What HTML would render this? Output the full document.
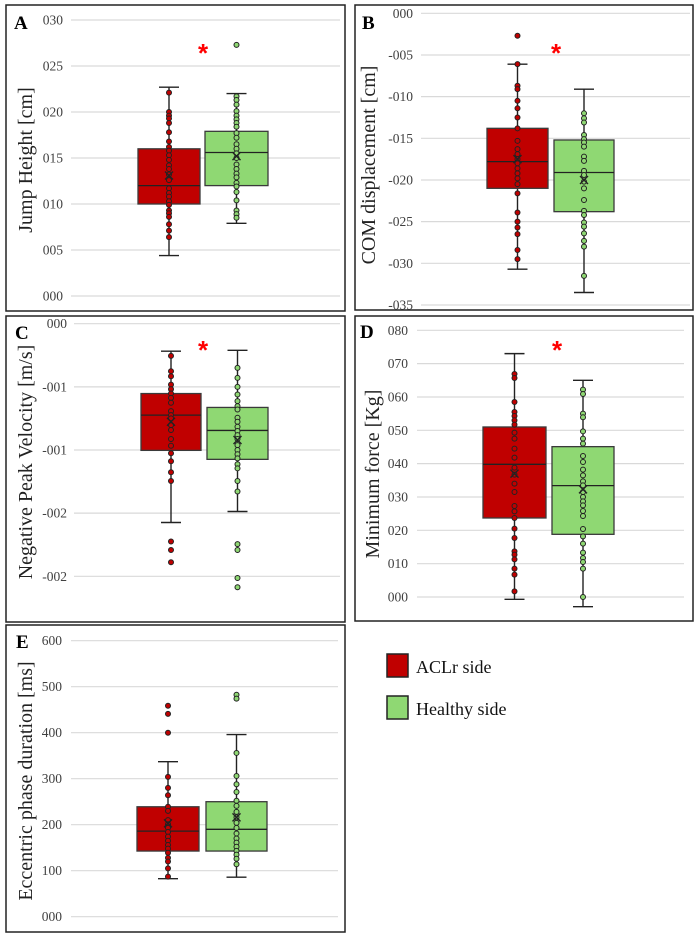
<!DOCTYPE html>
<html><head><meta charset="utf-8">
<style>
html,body{margin:0;padding:0;background:#fff;}
svg{display:block;font-family:"Liberation Serif",serif;}
</style></head>
<body>
<svg id="chart" width="698" height="938" viewBox="0 0 698 938" xmlns="http://www.w3.org/2000/svg">
<g>
<rect x="387" y="654" width="21" height="23" fill="#c00000" stroke="#222" stroke-width="1.5"/>
<text x="416" y="673" font-size="18" fill="#111">ACLr side</text>
<rect x="387" y="696" width="21" height="23" fill="#8fd873" stroke="#222" stroke-width="1.5"/>
<text x="416" y="715" font-size="18" fill="#111">Healthy side</text>
</g>
</svg>
<script>
// ---- Panel A: Jump Height ----
const A_ticks = [0,5,10,15,20,25,30];
const A_tickLabels = ["000","005","010","015","020","025","030"];
const A_redStats = [4.4,10,12,16,22.7,13.1];   // lowWhisker,q1,median,q3,highWhisker,mean
const A_redPoints = [22.1,20,19.6,19.3,18.8,17.8,16.8,16.2,15.8,15.3,14.8,14.2,13.8,13.2,12.6,11.7,11.2,10.8,10.3,9.9,9.3,9.0,8.6,7.8,7.1,6.4];
const A_redOutliers = [];
const A_greenStats = [7.9,12,15.6,17.9,22.0,15.2];
const A_greenPoints = [21.7,21.3,20.8,20.1,19.6,19.2,18.8,18.4,17.7,17.2,16.5,16.0,15.5,15.0,14.3,13.8,13.3,12.9,12.3,11.9,11.3,10.4,9.3,8.9,8.5];
const A_greenOutliers = [27.3];

// ---- Panel B: COM displacement ----
const B_ticks = [0,-5,-10,-15,-20,-25,-30,-35];
const B_tickLabels = ["000","-005","-010","-015","-020","-025","-030","-035"];
const B_redStats = [-30.7,-21,-17.8,-13.8,-6.1,-17.5];
const B_redPoints = [-6.1,-8.7,-9.1,-10.5,-11.4,-12.5,-13.8,-15.3,-16.3,-16.9,-17.5,-18.0,-18.6,-19.2,-19.8,-20.5,-21.6,-23.9,-25.0,-25.7,-26.5,-28.4,-29.5];
const B_redOutliers = [-2.7];
const B_greenStats = [-33.5,-23.8,-19.1,-15.2,-9.1,-20.0];
const B_greenPoints = [-12,-12.6,-13.1,-14.6,-15.1,-15.5,-16.0,-17.2,-17.7,-18.9,-19.4,-20.2,-21.0,-22.4,-23.7,-24.2,-25.1,-25.6,-26.4,-27.3,-28.0,-31.5];
const B_greenOutliers = [];

// ---- Panel C: Negative peak velocity ----
const C_ticks = [0,-0.5,-1.0,-1.5,-2.0];
const C_tickLabels = ["000","-001","-001","-002","-002"];
const C_redStats = [-1.574,-1.003,-0.724,-0.553,-0.218,-0.776];
const C_redPoints = [-0.255,-0.376,-0.416,-0.482,-0.518,-0.553,-0.587,-0.626,-0.692,-0.724,-0.75,-0.803,-0.842,-0.913,-0.966,-1.026,-1.089,-1.176,-1.245];
const C_redOutliers = [-1.724,-1.792,-1.889];
const C_greenStats = [-1.487,-1.074,-0.845,-0.663,-0.211,-0.921];
const C_greenPoints = [-0.35,-0.429,-0.5,-0.561,-0.613,-0.653,-0.679,-0.745,-0.776,-0.816,-0.85,-0.882,-0.913,-0.961,-1.0,-1.034,-1.066,-1.113,-1.145,-1.245,-1.329];
const C_greenOutliers = [-1.745,-1.792,-2.013,-2.087];

// ---- Panel D: Minimum force ----
const D_ticks = [0,10,20,30,40,50,60,70,80];
const D_tickLabels = ["000","010","020","030","040","050","060","070","080"];
const D_redStats = [-0.7,23.7,39.8,51,73,37];
const D_redPoints = [66.9,65.7,58.5,55.5,54.3,53,51.7,49.3,47.5,44.5,41.8,38.8,36.7,34,31.5,27.3,25.7,23.7,20.5,17.7,13.7,12.7,11.3,8.5,6.7,1.7];
const D_redOutliers = [];
const D_greenStats = [-2.9,18.8,33.4,45.1,65,32.3];
const D_greenPoints = [62.2,60.9,55,53.9,49.7,47.5,46,42.3,40.5,38.2,36.5,34.7,33.5,31.5,30,28.7,27.5,25.8,24.3,20.4,18.2,16,13.3,11.7,10.5,8.5,0];
const D_greenOutliers = [];

// ---- Panel E: Eccentric phase duration ----
const E_ticks = [0,100,200,300,400,500,600];
const E_tickLabels = ["000","100","200","300","400","500","600"];
const E_redStats = [82.6,142.7,186,239,337,203];
const E_redPoints = [304,280,264,239,230,210,201,193,184,174,165,156,148,139,128,120,105,87];
const E_redOutliers = [458.7,441,400];
const E_greenStats = [86,142.7,190,250,396,216];
const E_greenPoints = [356,306,288,271,252,241,228,216,204,193,181,170,161,152,143,135,126,114];
const E_greenOutliers = [482.6,474];

const NS = "http://www.w3.org/2000/svg";
const svg = document.getElementById("chart");
function mk(tag, attrs, parent){
  const e = document.createElementNS(NS, tag);
  for (const k in attrs) e.setAttribute(k, attrs[k]);
  (parent||svg).appendChild(e);
  return e;
}
const RED = "#c00000", GREEN = "#8fd873";

function panel(p){
  const g = mk("g", {});
  
  
  const fr = mk("rect", {x:p.fx, y:p.fy, width:p.fw, height:p.fh, fill:"#fff", stroke:"#222", "stroke-width":1.5}, g);
  
  
  const y = v => p.py0 + (v - p.v0) * (p.py1 - p.py0) / (p.v1 - p.v0);
  p.ticks.forEach((t, i) => {
    const gl = mk("line", {x1:p.gx0, x2:p.gx1, y1:y(t), y2:y(t), stroke:"#d9d9d9", "stroke-width":1.2}, g);
    
    
    const tl = mk("text", {x:p.lx, y:y(t)+4.5, "text-anchor":"end", "font-size":13.5, fill:"#404040"}, g);
    tl.textContent = p.tickLabels[i];
    
    
  });
  const tt = mk("text", {x:p.tx, y:p.ty, "text-anchor":"middle", "font-size":20, fill:"#222", transform:"rotate(-90 "+p.tx+" "+p.ty+")", dy:7}, g);
  tt.textContent = p.title;
  
  
  const lt = mk("text", {x:p.letX, y:p.letY, "font-size":19, "font-weight":"bold", fill:"#000"}, g);
  lt.textContent = p.id;
  
  
  if (p.star) {
    const st = mk("text", {x:p.star[0], y:p.star[1]+12, "text-anchor":"middle", "font-size":26, "font-weight":"bold", fill:"#ff0000", "font-family":"Liberation Sans, sans-serif"}, g);
    st.textContent = "*";
    
    
  }
  [[p.red, RED, p.rb, "aclr"], [p.green, GREEN, p.gb, "healthy"]].forEach(([d, col, bx, nm]) => {
    const s = d.stats, cx = (bx[0]+bx[1])/2, bg = mk("g", {}, g);
    
    
    const wl = mk("line", {x1:cx, x2:cx, y1:y(s[0]), y2:y(s[4]), stroke:"#222", "stroke-width":1.4}, bg);
    
    
    [s[0], s[4]].forEach(v => {
      const c = mk("line", {x1:cx-10, x2:cx+10, y1:y(v), y2:y(v), stroke:"#222", "stroke-width":1.4}, bg);
      
      
    });
    const r = mk("rect", {x:bx[0], y:y(s[3]), width:bx[1]-bx[0], height:y(s[1])-y(s[3]), fill:col, stroke:"#3a3a3a", "stroke-width":1.3}, bg);
    
    
    const md = mk("line", {x1:bx[0], x2:bx[1], y1:y(s[2]), y2:y(s[2]), stroke:"#222", "stroke-width":1.3}, bg);
    
    
    d.points.concat(d.outliers).forEach(v => {
      const c = mk("circle", {cx:cx, cy:y(v), r:2.5, fill:col, stroke:"#222", "stroke-width":1}, bg);
      
      
    });
    const my = y(s[5]);
    const mx = mk("path", {d:`M${cx-4} ${my-4}L${cx+4} ${my+4}M${cx+4} ${my-4}L${cx-4} ${my+4}`, stroke:"#222", "stroke-width":1.4, fill:"none"}, bg);
    
    
  });
}

panel({id:"A", fx:6, fy:5, fw:339, fh:306, v0:30, v1:0, py0:20, py1:296, gx0:71, gx1:340, lx:63,
  ticks:A_ticks, tickLabels:A_tickLabels, title:"Jump Height [cm]", tx:25, ty:160, letX:14, letY:29, star:[203,50],
  rb:[138,200], gb:[205,268],
  red:{stats:A_redStats, points:A_redPoints, outliers:A_redOutliers},
  green:{stats:A_greenStats, points:A_greenPoints, outliers:A_greenOutliers}});
panel({id:"B", fx:355, fy:5, fw:338, fh:305, v0:0, v1:-35, py0:13.3, py1:305, gx0:421, gx1:690, lx:413,
  ticks:B_ticks, tickLabels:B_tickLabels, title:"COM displacement [cm]", tx:368, ty:165, letX:362, letY:29, star:[556,50],
  rb:[487,548], gb:[554,614],
  red:{stats:B_redStats, points:B_redPoints, outliers:B_redOutliers},
  green:{stats:B_greenStats, points:B_greenPoints, outliers:B_greenOutliers}});
panel({id:"C", fx:6, fy:316, fw:339, fh:306, v0:0, v1:-2, py0:323.7, py1:576.3, gx0:74, gx1:340, lx:67,
  ticks:C_ticks, tickLabels:C_tickLabels, title:"Negative Peak  Velocity  [m/s]", tx:25, ty:462, letX:15, letY:339, star:[203,347],
  rb:[141,201], gb:[207,268],
  red:{stats:C_redStats, points:C_redPoints, outliers:C_redOutliers},
  green:{stats:C_greenStats, points:C_greenPoints, outliers:C_greenOutliers}});
panel({id:"D", fx:355, fy:316, fw:338, fh:305, v0:80, v1:0, py0:330.3, py1:597, gx0:417, gx1:684, lx:408,
  ticks:D_ticks, tickLabels:D_tickLabels, title:"Minimum force [Kg]", tx:372, ty:474, letX:360, letY:338, star:[557,347],
  rb:[483,546], gb:[552,614],
  red:{stats:D_redStats, points:D_redPoints, outliers:D_redOutliers},
  green:{stats:D_greenStats, points:D_greenPoints, outliers:D_greenOutliers}});
panel({id:"E", fx:6, fy:625, fw:339, fh:307, v0:600, v1:0, py0:640.7, py1:916.7, gx0:71, gx1:338, lx:62,
  ticks:E_ticks, tickLabels:E_tickLabels, title:"Eccentric phase duration [ms]", tx:25, ty:781, letX:16, letY:648, star:null,
  rb:[137,199], gb:[206,267],
  red:{stats:E_redStats, points:E_redPoints, outliers:E_redOutliers},
  green:{stats:E_greenStats, points:E_greenPoints, outliers:E_greenOutliers}});
</script>
</body></html>
